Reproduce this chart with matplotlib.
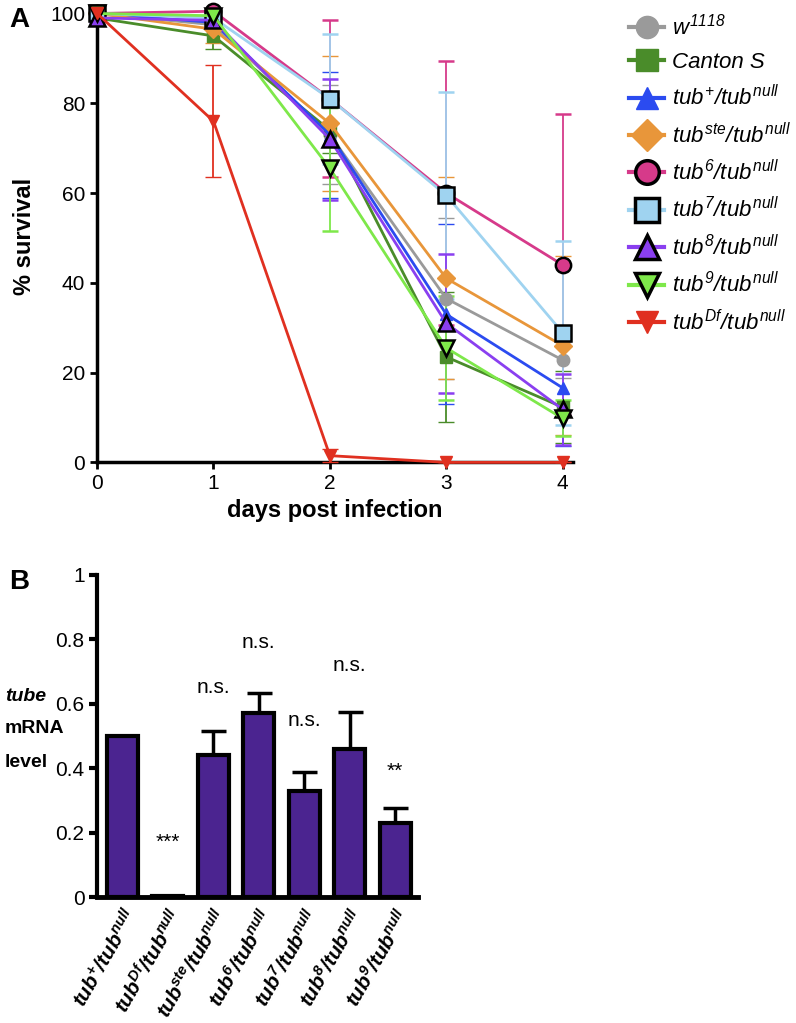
import matplotlib
matplotlib.use('Agg')
import matplotlib.pyplot as plt
from matplotlib.lines import Line2D

plt.rcParams['font.family'] = ['Liberation Sans', 'DejaVu Sans']
plt.rcParams['mathtext.fontset'] = 'custom'
plt.rcParams['mathtext.rm'] = 'Liberation Sans:italic'
plt.rcParams['mathtext.it'] = 'Liberation Sans:italic'
plt.rcParams['mathtext.bf'] = 'Liberation Sans:bold:italic'

# ---- panel A data: survival after infection ----
days = [0, 1, 2, 3, 4]
genotypes = ['$w^{1118}$', 'Canton S', '$tub^{+}/tub^{null}$', '$tub^{ste}/tub^{null}$',
             '$tub^{6}/tub^{null}$', '$tub^{7}/tub^{null}$', '$tub^{8}/tub^{null}$',
             '$tub^{9}/tub^{null}$', '$tub^{Df}/tub^{null}$']
w1118 = [100, 97.5, 73, 36.5, 22.8]
canton_s = [99, 95, 74, 23.5, 12.3]
tub_plus = [100, 98, 73, 33, 16.6]
tub_ste = [100, 96.5, 75.5, 41, 26]
tub6 = [100, 100.5, 81, 60, 44]
tub7 = [100, 99, 81, 59.5, 28.9]
tub8 = [99, 98.5, 72, 31, 11.8]
tub9 = [100, 99.5, 65.5, 25.5, 9.8]
tub_df = [100, 76, 1.5, 0, 0]

w1118_err = [0, 1, 11, 18, 4]
canton_s_err = [1, 3, 5, 14.5, 8]
tub_plus_err = [0, 1, 14, 20, 13]
tub_ste_err = [0, 3, 15, 22.5, 20]
tub6_err = [0, 0.5, 17.5, 29.5, 33.5]
tub7_err = [0, 1, 14.5, 23, 20.5]
tub8_err = [1, 1, 13.5, 15.5, 8]
tub9_err = [0, 1, 14, 11.5, 4]
tub_df_err = [0, 12.5, 1.5, 0, 0]

# ---- panel B data: tube mRNA level ----
bar_labels = [r'$\mathbf{tub}^{\mathbf{+}}\mathbf{/tub}^{\mathbf{null}}$',
              r'$\mathbf{tub}^{\mathbf{Df}}\mathbf{/tub}^{\mathbf{null}}$',
              r'$\mathbf{tub}^{\mathbf{ste}}\mathbf{/tub}^{\mathbf{null}}$',
              r'$\mathbf{tub}^{\mathbf{6}}\mathbf{/tub}^{\mathbf{null}}$',
              r'$\mathbf{tub}^{\mathbf{7}}\mathbf{/tub}^{\mathbf{null}}$',
              r'$\mathbf{tub}^{\mathbf{8}}\mathbf{/tub}^{\mathbf{null}}$',
              r'$\mathbf{tub}^{\mathbf{9}}\mathbf{/tub}^{\mathbf{null}}$']
mrna = [0.50, 0.003, 0.44, 0.57, 0.33, 0.46, 0.23]
mrna_err = [0, 0, 0.075, 0.063, 0.058, 0.115, 0.047]
signif = ['', '***', 'n.s.', 'n.s.', 'n.s.', 'n.s.', '**']
signif_y = [0, 0.14, 0.62, 0.76, 0.52, 0.69, 0.36]

series = [w1118, canton_s, tub_plus, tub_ste, tub6, tub7, tub8, tub9, tub_df]
errs = [w1118_err, canton_s_err, tub_plus_err, tub_ste_err, tub6_err, tub7_err,
        tub8_err, tub9_err, tub_df_err]
colors = ['#9a9a9a', '#4a8c2a', '#2b4bf0', '#e8963a', '#d63a8a', '#9fd3f0',
          '#8a3ff0', '#7ee84a', '#e03020']
markers = ['o', 's', '^', 'D', 'o', 's', '^', 'v', 'v']
outlined = [False, False, False, False, True, True, True, True, False]

fig = plt.figure(figsize=(7.96, 10.23), dpi=100)

# panel A
ax = fig.add_axes([0.122, 0.548, 0.598, 0.441])
for y, e, c, m, o in zip(series, errs, colors, markers, outlined):
    ax.errorbar(days, y, yerr=e, color=c, lw=2, elinewidth=1.3, capsize=6,
                capthick=1.3, marker=m, ms=11 if o else 9,
                mec='black' if o else c, mew=1.8 if o else 1, mfc=c,
                clip_on=False, zorder=3)
ax.set_xlim(0, 4.09)
ax.set_ylim(0, 100.5)
ax.set_xticks(days)
ax.set_yticks([0, 20, 40, 60, 80, 100])
ax.spines['top'].set_visible(False)
ax.spines['right'].set_visible(False)
ax.spines['left'].set_linewidth(2.5)
ax.spines['bottom'].set_linewidth(2.5)
ax.spines['left'].set_bounds(0, 100)
ax.tick_params(width=2, length=5, labelsize=15)
ax.set_xlabel('days post infection', fontsize=17, fontweight='bold', labelpad=4)
ax.set_ylabel('% survival', fontsize=17, fontweight='bold', labelpad=10)

handles = []
for c, m, o in zip(colors, markers, outlined):
    handles.append(Line2D([], [], color=c, lw=3, marker=m, ms=17 if o else 16,
                          mfc=c, mec='black' if o else c, mew=2.5 if o else 1))
fig.legend(handles, genotypes, loc='upper left', bbox_to_anchor=(0.765, 1.006),
           frameon=False, prop={'style': 'italic', 'size': 16},
           handlelength=1.6, handletextpad=0.35, labelspacing=0.55)

fig.text(0.012, 0.98, 'A', fontsize=20, fontweight='bold', va='center')

# panel B
bx = fig.add_axes([0.122, 0.123, 0.403, 0.315])
xs = list(range(len(mrna)))
bx.bar(xs, mrna, width=0.68, color='#4b2490', edgecolor='black', linewidth=3,
       zorder=2)
bx.errorbar(xs, mrna, yerr=[[0] * len(mrna), mrna_err], fmt='none',
            ecolor='black', elinewidth=2.5, capsize=9, capthick=2.5, zorder=1)
for x, s, sy in zip(xs, signif, signif_y):
    bx.text(x, sy, s, ha='center', va='bottom', fontsize=15)
bx.set_xlim(-0.55, 6.5)
bx.set_ylim(0, 1)
bx.set_yticks([0, 0.2, 0.4, 0.6, 0.8, 1])
bx.set_yticklabels(['0', '0.2', '0.4', '0.6', '0.8', '1'])
bx.set_xticks(xs)
bx.set_xticklabels(bar_labels, rotation=60, ha='right', va='top',
                   rotation_mode='anchor', fontsize=15)
bx.tick_params(axis='y', width=3, length=6, labelsize=15, pad=3)
bx.tick_params(axis='x', length=0, pad=6)
bx.spines['top'].set_visible(False)
bx.spines['right'].set_visible(False)
bx.spines['left'].set_linewidth(3)
bx.spines['bottom'].set_linewidth(3.5)

fig.text(0.012, 0.431, 'B', fontsize=20, fontweight='bold', va='center')
fig.text(0.006, 0.319, 'tube', fontsize=14, fontweight='bold', style='italic',
         va='center')
fig.text(0.006, 0.288, 'mRNA', fontsize=14, fontweight='bold', va='center')
fig.text(0.006, 0.255, 'level', fontsize=14, fontweight='bold', va='center')

fig.savefig('out.png', dpi=100)
